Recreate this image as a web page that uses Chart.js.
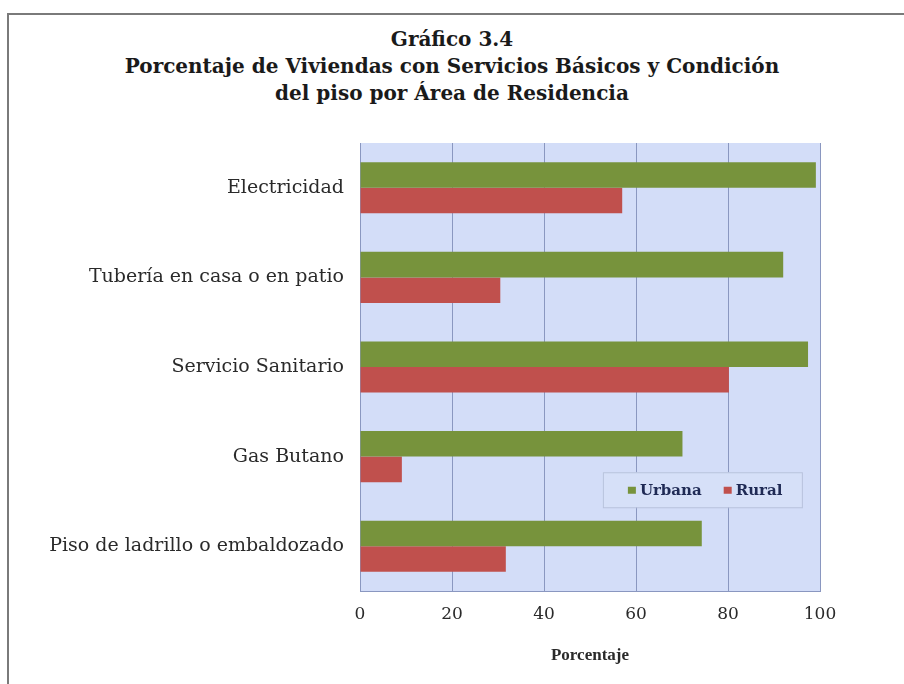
<!DOCTYPE html>
<html>
<head>
<meta charset="utf-8">
<script src="https://cdn.jsdelivr.net/npm/chart.js@4.4.1/dist/chart.umd.min.js"></script>
<style>
    body { margin: 0; background: #fff; }
    #wrap { position: relative; width: 904px; height: 684px; overflow: hidden; }
    #frame { position: absolute; left: 7px; top: 13px; width: 920px; height: 700px;
             border-left: 2px solid #7a7a7a; border-top: 2px solid #7a7a7a; }
    #title { position: absolute; left: 0; top: 26px; width: 904px; text-align: center;
             font-family: "DejaVu Serif", serif; font-weight: bold; font-size: 20px;
             line-height: 27px; color: #1a1a1a; }
    canvas { position: absolute; left: 0; top: 0; }
</style>
</head>
<body>
<div id="wrap">
    <div id="frame"></div>
    <div id="title">Gráfico 3.4<br>Porcentaje de Viviendas con Servicios Básicos y Condición<br>del piso por Área de Residencia</div>
    <canvas id="chart" width="904" height="684"></canvas>
</div>
<script>
// datos
var categorias = ['Electricidad', 'Tubería en casa o en patio', 'Servicio Sanitario', 'Gas Butano', 'Piso de ladrillo o embaldozado'];
var urbana = [99.1, 92, 97.4, 70.1, 74.3];
var rural = [57, 30.5, 80.2, 9.1, 31.7];
var ticksX = [0, 20, 40, 60, 80, 100];

var fuente = '"DejaVu Serif", serif';

// fondo azul del área de trazado
var fondoPlot = {
    id: 'fondoPlot',
    beforeDraw: function (chart) {
        var a = chart.chartArea, ctx = chart.ctx;
        ctx.save();
        ctx.fillStyle = '#d3ddf8';
        ctx.fillRect(a.left, a.top, a.right - a.left, a.bottom - a.top);
        ctx.restore();
    }
};

// leyenda dentro del área de trazado
var leyenda = {
    id: 'leyenda',
    afterDraw: function (chart) {
        var ctx = chart.ctx, x = chart.scales.x, y = chart.scales.y;
        var h = 35, w = 199;
        var left = x.getPixelForValue(52.8), top = y.getPixelForValue(3.37) - h / 2;
        ctx.save();
        ctx.fillStyle = '#d6e0f8';
        ctx.fillRect(left, top, w, h);
        ctx.strokeStyle = '#b8c2dc';
        ctx.lineWidth = 1;
        ctx.strokeRect(left + 0.5, top + 0.5, w, h);
        ctx.font = 'bold 15px ' + fuente;
        ctx.textBaseline = 'middle';
        var cx = left + 25;
        chart.data.datasets.forEach(function (ds) {
            ctx.fillStyle = ds.backgroundColor;
            ctx.fillRect(cx, top + h / 2 - 3, 8, 7);
            ctx.fillStyle = '#1f2a55';
            ctx.fillText(ds.label, cx + 12, top + h / 2 + 1);
            cx += 12 + ctx.measureText(ds.label).width + 22;
        });
        ctx.restore();
    }
};

new Chart(document.getElementById('chart'), {
    type: 'bar',
    data: {
        labels: categorias,
        datasets: [
            { label: 'Urbana', data: urbana, backgroundColor: '#77933c', barPercentage: 1, categoryPercentage: 0.57 },
            { label: 'Rural', data: rural, backgroundColor: '#c0504d', barPercentage: 1, categoryPercentage: 0.57 }
        ]
    },
    options: {
        responsive: false,
        animation: false,
        indexAxis: 'y',
        layout: { padding: { top: 143, left: 20, right: 84, bottom: 14 } },
        plugins: {
            legend: { display: false },
            tooltip: { enabled: false }
        },
        scales: {
            x: {
                min: 0, max: 100,
                afterBuildTicks: function (s) { s.ticks = ticksX.map(function (v) { return { value: v }; }); },
                afterFit: function (s) { s.height = 79; },
                grid: { color: '#8a97c0', lineWidth: 1, drawTicks: false },
                border: { color: '#8a97c0' },
                ticks: { padding: 13, color: '#2a2a2a', font: { family: fuente, size: 17 } },
                title: { display: true, text: 'Porcentaje', color: '#2a2a2a', padding: { top: 20, bottom: 4 },
                         font: { family: '"Liberation Serif", serif', size: 17, weight: 'bold' } }
            },
            y: {
                afterFit: function (s) { s.width = 340; },
                grid: { display: false, drawTicks: false },
                border: { display: false },
                ticks: { padding: 16, color: '#2a2a2a', font: { family: fuente, size: 19 } }
            }
        }
    },
    plugins: [fondoPlot, leyenda]
});
</script>
</body>
</html>
